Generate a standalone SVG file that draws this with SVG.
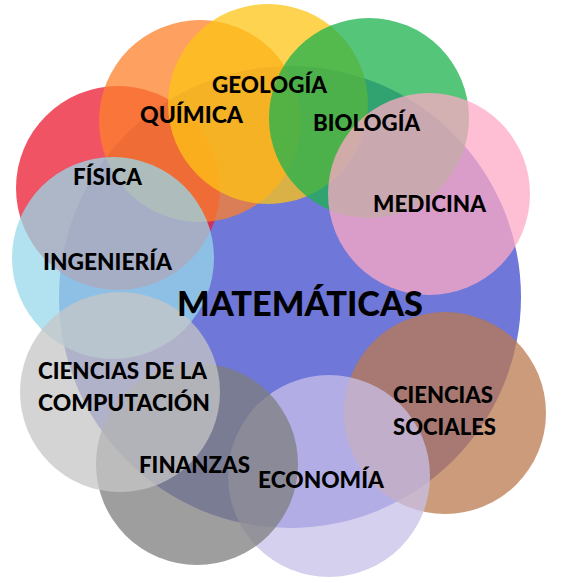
<svg xmlns="http://www.w3.org/2000/svg" width="567" height="583" viewBox="0 0 567 583">
<style>
.c{fill-opacity:0.75}
.lbl{font-family:Lato,"Open Sans","Liberation Sans",sans-serif;font-weight:900;font-size:23.5px;fill:#000}
.big{font-size:34px}
</style>
<rect width="567" height="583" fill="#fff"/>
<g id="nodes">
<g id="node-matematicas"><circle cx="290" cy="297" r="231" fill="#6f77d8"/></g>
<g id="node-fisica"><circle class="c" cx="118" cy="188" r="102" fill="#eb1b30"/></g>
<g id="node-quimica"><circle class="c" cx="200" cy="121" r="101" fill="#fc802b"/></g>
<g id="node-geologia"><circle class="c" cx="268" cy="104" r="100" fill="#fec416"/></g>
<g id="node-biologia"><circle class="c" cx="369" cy="118" r="100" fill="#1cb24e"/></g>
<g id="node-medicina"><circle class="c" cx="429" cy="194" r="101" fill="#fdaac6"/></g>
<g id="node-ingenieria"><circle class="c" cx="113" cy="258" r="101" fill="#98d8e9"/></g>
<g id="node-ciencias-sociales"><circle class="c" cx="445" cy="413" r="101" fill="#b97950"/></g>
<g id="node-economia"><circle class="c" cx="329" cy="476" r="101" fill="#c8c0e9"/></g>
<g id="node-finanzas"><circle class="c" cx="197" cy="464" r="101" fill="#7e7e7e"/></g>
<g id="node-computacion"><circle class="c" cx="120" cy="392" r="100" fill="#c6c6c6"/></g>
</g>
<g id="labels">
<text id="label-geologia" class="lbl" x="212" y="93" textLength="115" lengthAdjust="spacingAndGlyphs">GEOLOGÍA</text>
<text id="label-quimica" class="lbl" x="140" y="123" textLength="103" lengthAdjust="spacingAndGlyphs">QUÍMICA</text>
<text id="label-biologia" class="lbl" x="313" y="131" textLength="107" lengthAdjust="spacingAndGlyphs">BIOLOGÍA</text>
<text id="label-fisica" class="lbl" x="73" y="185" textLength="69" lengthAdjust="spacingAndGlyphs">FÍSICA</text>
<text id="label-medicina" class="lbl" x="373" y="212" textLength="113" lengthAdjust="spacingAndGlyphs">MEDICINA</text>
<text id="label-ingenieria" class="lbl" x="43" y="270" textLength="129" lengthAdjust="spacingAndGlyphs">INGENIERÍA</text>
<text id="label-matematicas" class="lbl big" x="177" y="316" textLength="246" lengthAdjust="spacingAndGlyphs">MATEMÁTICAS</text>
<text id="label-computacion" class="lbl"><tspan x="38" y="379" textLength="169" lengthAdjust="spacingAndGlyphs">CIENCIAS DE LA</tspan><tspan x="38" y="411" textLength="172" lengthAdjust="spacingAndGlyphs">COMPUTACIÓN</tspan></text>
<text id="label-ciencias-sociales" class="lbl"><tspan x="393" y="403" textLength="100" lengthAdjust="spacingAndGlyphs">CIENCIAS</tspan><tspan x="393" y="435" textLength="103" lengthAdjust="spacingAndGlyphs">SOCIALES</tspan></text>
<text id="label-finanzas" class="lbl" x="139" y="473" textLength="111" lengthAdjust="spacingAndGlyphs">FINANZAS</text>
<text id="label-economia" class="lbl" x="258" y="488" textLength="126" lengthAdjust="spacingAndGlyphs">ECONOMÍA</text>
</g>
</svg>
